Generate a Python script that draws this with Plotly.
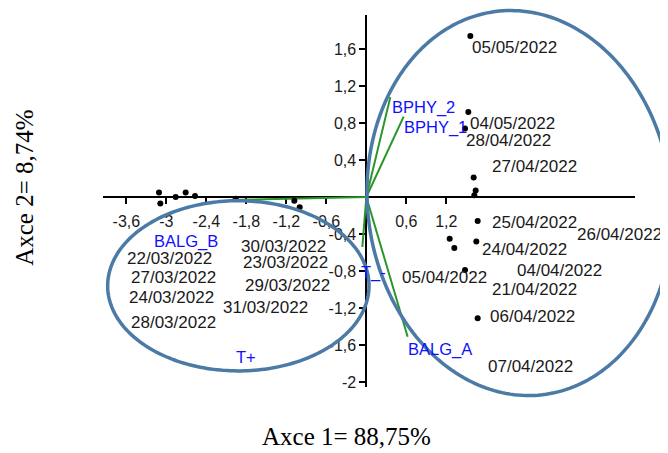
import numpy as np
import plotly.graph_objects as go

# ---------------- data ----------------
# PCA scores (Axce 1, Axce 2)
score_x = [-3.11, -3.09, -2.86, -2.71, -2.57, -1.96, -1.08, -1.00,
           1.56, 1.53, 1.48, 1.61, 1.64, 1.62, 1.67, 1.25, 1.32, 1.65, 1.48, 1.67]
score_y = [0.05, -0.07, 0.00, 0.05, 0.01, -0.02, -0.04, -0.11,
           1.74, 0.92, 0.74, 0.21, 0.07, 0.02, -0.26, -0.45, -0.55, -0.48, -0.79, -1.31]

# date labels and where they are written
dates = ["05/05/2022", "04/05/2022", "28/04/2022", "27/04/2022", "25/04/2022",
         "26/04/2022", "24/04/2022", "04/04/2022", "05/04/2022", "21/04/2022",
         "06/04/2022", "07/04/2022", "30/03/2022", "22/03/2022", "23/03/2022",
         "27/03/2022", "29/03/2022", "24/03/2022", "31/03/2022", "28/03/2022"]
date_lx = [2.22, 2.19, 2.13, 2.52, 2.52, 3.79, 2.37, 2.89, 1.17, 2.52,
           2.49, 2.46, -1.24, -2.95, -1.22, -2.90, -1.18, -2.92, -1.51, -2.90]
date_ly = [1.62, 0.79, 0.61, 0.33, -0.27, -0.41, -0.57, -0.79, -0.87, -1.00,
           -1.29, -1.83, -0.53, -0.67, -0.71, -0.87, -0.96, -1.09, -1.19, -1.36]

# variable loadings (biplot vectors)
var_names = ["BPHY_2", "BPHY_1", "BALG_A", "BALG_B", "T_-"]
var_x = [0.36, 0.56, 0.62, -1.95, -0.06]
var_y = [1.08, 0.87, -1.51, -0.03, -0.54]

# variable label text positions
vlab_names = ["BPHY_2", "BPHY_1", "BALG_A", "BALG_B", "T+", "T_-"]
vlab_x = [0.86, 1.04, 1.11, -2.70, -1.80, 0.11]
vlab_y = [0.97, 0.75, -1.65, -0.48, -1.73, -0.82]

# ticks
x_ticks = [-3.6, -3.0, -2.4, -1.8, -1.2, -0.6, 0.6, 1.2]
y_ticks = [1.6, 1.2, 0.8, 0.4, -0.4, -0.8, -1.2, -1.6, -2.0]

# group ellipses: center x, center y, semi-axis x, semi-axis y (data units), tilt (deg, on screen)
ellipses = [(-1.92, -0.96, 1.96, 0.92, 0.0),
            (2.30, -0.065, 2.28, 2.087, -7.0)]

X_RANGE = [-3.95, 4.03]
Y_RANGE = [-2.054, 1.968]
PLOT_W, PLOT_H = 532, 372


def fmt(v):
    s = ("%.1f" % v).rstrip("0").rstrip(".")
    return s.replace(".", ",")


fig = go.Figure()

# ellipses (built in screen space so that the tilt is visual, then mapped to
# paper coordinates through the axis ranges so they are not clipped)
sx = PLOT_W / (X_RANGE[1] - X_RANGE[0])
sy = PLOT_H / (Y_RANGE[1] - Y_RANGE[0])
for cx, cy, ax, ay, ang in ellipses:
    t = np.linspace(0, 2 * np.pi, 240)
    u = ax * sx * np.cos(t)
    v = ay * sy * np.sin(t)
    th = np.radians(ang)
    U = u * np.cos(th) - v * np.sin(th)
    V = u * np.sin(th) + v * np.cos(th)
    ex = cx + U / sx
    ey = cy - V / sy
    px = (ex - X_RANGE[0]) / (X_RANGE[1] - X_RANGE[0])
    py = (ey - Y_RANGE[0]) / (Y_RANGE[1] - Y_RANGE[0])
    path = "M " + " L ".join(f"{a:.5f},{b:.5f}" for a, b in zip(px, py)) + " Z"
    fig.add_shape(type="path", path=path, xref="paper", yref="paper",
                  line=dict(color="#4b7aa6", width=3.5), layer="above")

# vectors
for vx, vy in zip(var_x, var_y):
    fig.add_trace(go.Scatter(x=[0, vx], y=[0, vy], mode="lines",
                             line=dict(color="#2a962a", width=2),
                             showlegend=False, hoverinfo="skip"))

# points
fig.add_trace(go.Scatter(x=score_x, y=score_y, mode="markers",
                         marker=dict(color="black", size=6),
                         showlegend=False))

# date labels
for txt, lx, ly in zip(dates, date_lx, date_ly):
    fig.add_annotation(x=lx, y=ly, text=txt, showarrow=False,
                       xanchor="center", yanchor="middle",
                       font=dict(family="Liberation Sans, Arial", size=17, color="#1a1a1a"))

# variable labels
for txt, lx, ly in zip(vlab_names, vlab_x, vlab_y):
    fig.add_annotation(x=lx, y=ly, text=txt, showarrow=False,
                       xanchor="center", yanchor="middle",
                       font=dict(family="Liberation Sans, Arial", size=16.5, color="#1010ff"))

# axis titles
fig.add_annotation(xref="paper", yref="paper", x=0.457, y=-0.134,
                   text="Axce 1= 88,75%", showarrow=False,
                   xanchor="center", yanchor="middle",
                   font=dict(family="Liberation Serif, Times New Roman", size=25, color="black"))
fig.add_annotation(xref="paper", yref="paper", x=-0.147, y=0.535,
                   text="Axce 2= 8,74%", showarrow=False, textangle=-90,
                   xanchor="center", yanchor="middle",
                   font=dict(family="Liberation Serif, Times New Roman", size=25, color="black"))

x_pos = (0 - Y_RANGE[0]) / (Y_RANGE[1] - Y_RANGE[0])
y_pos = (0 - X_RANGE[0]) / (X_RANGE[1] - X_RANGE[0])

axis_common = dict(showgrid=False, zeroline=False, showline=True,
                   linecolor="black", linewidth=2, ticks="outside",
                   ticklen=6, tickwidth=2, tickcolor="black",
                   tickfont=dict(family="Liberation Sans, Arial", size=16, color="#1a1a1a"),
                   anchor="free", layer="below traces")

# page body has an 8px margin: shift the plot area back by that amount
fig.update_layout(
    width=668, height=453,
    margin=dict(l=95, r=668 - 95 - PLOT_W, t=7, b=453 - 7 - PLOT_H),
    paper_bgcolor="white", plot_bgcolor="white",
    showlegend=False,
    xaxis=dict(range=X_RANGE, position=x_pos, side="bottom",
               tickvals=x_ticks, ticktext=[fmt(v) for v in x_ticks],
               ticklabelstandoff=4, **axis_common),
    yaxis=dict(range=Y_RANGE, position=y_pos, side="left",
               tickvals=y_ticks, ticktext=[fmt(v) for v in y_ticks],
               **axis_common),
)

fig.write_html("out.html")
